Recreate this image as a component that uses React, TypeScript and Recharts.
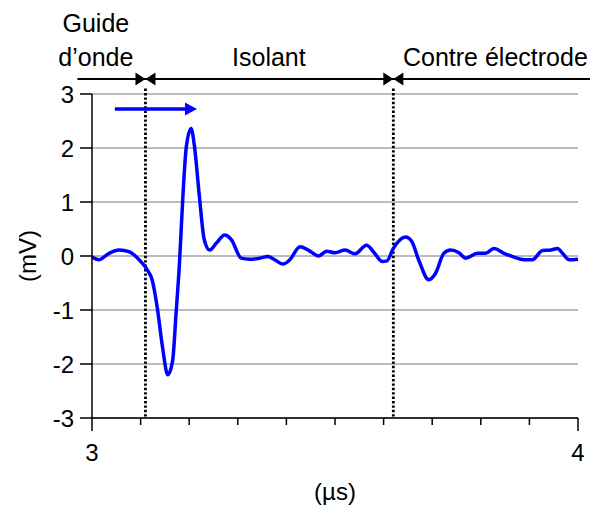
import {
  CartesianGrid,
  Line,
  LineChart,
  ReferenceDot,
  ReferenceLine,
  XAxis,
  YAxis,
} from "recharts";

// time (µs) and signal (mV)
const TIME_US = [
  3.0, 3.014, 3.035, 3.056, 3.076, 3.097, 3.114, 3.124, 3.134, 3.145, 3.156,
  3.166, 3.173, 3.18, 3.187, 3.194, 3.204, 3.211, 3.221, 3.231, 3.242, 3.256,
  3.273, 3.287, 3.307, 3.324, 3.345, 3.362, 3.376, 3.393, 3.407, 3.428, 3.445,
  3.466, 3.483, 3.5, 3.521, 3.541, 3.565, 3.579, 3.597, 3.607, 3.62, 3.645,
  3.658, 3.672, 3.693, 3.707, 3.724, 3.738, 3.755, 3.769, 3.793, 3.81, 3.827,
  3.848, 3.868, 3.889, 3.906, 3.927, 3.944, 3.958, 3.968, 3.982, 4.0,
];
const SIGNAL_MV = [
  -0.02, -0.07, 0.05, 0.11, 0.08, -0.07, -0.26, -0.45, -0.94, -1.68, -2.2,
  -1.93, -1.06, -0.13, 1.1, 2.02, 2.36, 2.02, 1.1, 0.3, 0.11, 0.24,
  0.39, 0.3, -0.04, -0.06, -0.04, -0.01, -0.07, -0.15, -0.07, 0.17, 0.11,
  0.0, 0.09, 0.06, 0.11, 0.04, 0.2, 0.08, -0.1, -0.09, 0.14, 0.35,
  0.27, -0.07, -0.44, -0.32, 0.05, 0.11, 0.06, -0.04, 0.05, 0.05, 0.14,
  0.05, -0.02, -0.07, -0.07, 0.1, 0.11, 0.14, 0.05, -0.07, -0.06,
];

const X_TICKS = [3, 3.1, 3.2, 3.3, 3.4, 3.5, 3.6, 3.7, 3.8, 3.9, 4];
const Y_TICKS = [-3, -2, -1, 0, 1, 2, 3];

// interfaces between the layers (µs)
const BOUNDARIES_US = [3.11, 3.62];
const REGION_NAMES = [["Guide", "d\u2019onde"], ["Isolant"], ["Contre électrode"]];
const REGION_X_US = [3.008, 3.364, 3.83];

// propagation arrow (µs)
const ARROW_FROM_US = 3.047;
const ARROW_TO_US = 3.216;

const data = TIME_US.map((t, i) => ({ t, mv: SIGNAL_MV[i] }));

const FONT = "'Liberation Sans', Arial, Helvetica, sans-serif";
const BLUE = "#0000ff";

// y levels (in mV units) for the annotations above the plot
const BANNER_MV = 3.28;
const ARROW_MV = 2.72;
const LABEL_ROW1_MV = 4.15;
const LABEL_ROW2_MV = 3.52;

function XTick(props: any) {
  const { x, y, payload } = props;
  const v = payload.value as number;
  const major = Math.abs(v - Math.round(v)) < 1e-6;
  return (
    <g>
      <line x1={x} x2={x} y1={y} y2={y + (major ? 13 : 7)} stroke="#000" strokeWidth={1.5} />
      {major && (
        <text x={x} y={y + 43} textAnchor="middle" fontSize={24} fill="#000" fontFamily={FONT}>
          {Math.round(v)}
        </text>
      )}
    </g>
  );
}

function Bowtie(props: any) {
  const { cx, cy } = props;
  return (
    <path
      d={`M${cx - 10},${cy - 6.5}L${cx},${cy}L${cx - 10},${cy + 6.5}Z M${cx + 10},${cy - 6.5}L${cx},${cy}L${cx + 10},${cy + 6.5}Z`}
      fill="#000"
    />
  );
}

function Arrow(props: any) {
  const { x1, y1, x2 } = props;
  return (
    <g>
      <line x1={x1} x2={x2 - 10} y1={y1} y2={y1} stroke={BLUE} strokeWidth={3.5} />
      <path d={`M${x2 - 12},${y1 - 6.5}L${x2},${y1}L${x2 - 12},${y1 + 6.5}Z`} fill={BLUE} />
    </g>
  );
}

function regionLabel(text: string) {
  return (props: any) => (
    <text x={props.cx} y={props.cy} textAnchor="middle" fontSize={25} fill="#000" fontFamily={FONT}>
      {text}
    </text>
  );
}

export default function App() {
  return (
    <div style={{ position: "absolute", left: 0, top: 0, background: "#fff", fontFamily: FONT }}>
      <LineChart
        width={590}
        height={509}
        data={data}
        margin={{ top: 94, right: 12, bottom: 0, left: 0 }}
      >
        <CartesianGrid vertical={false} stroke="#a6a6a6" strokeWidth={1.5} />
        <XAxis
          dataKey="t"
          type="number"
          domain={[3, 4]}
          ticks={X_TICKS}
          interval={0}
          height={91}
          tickSize={0}
          tickMargin={0}
          tickLine={false}
          axisLine={{ stroke: "#000", strokeWidth: 1.5 }}
          tick={<XTick />}
          label={{
            content: (p: any) => (
              <text
                x={p.viewBox.x + p.viewBox.width / 2}
                y={p.viewBox.y + 82}
                textAnchor="middle"
                fontSize={24}
                fill="#000"
                fontFamily={FONT}
              >
                (µs)
              </text>
            ),
          }}
        />
        <YAxis
          type="number"
          domain={[-3, 3]}
          ticks={Y_TICKS}
          interval={0}
          width={92}
          tickSize={12}
          tickMargin={6}
          tick={{ fill: "#000", fontSize: 24, fontFamily: FONT }}
          tickLine={{ stroke: "#000", strokeWidth: 1.5 }}
          axisLine={{ stroke: "#000", strokeWidth: 1.5 }}
          label={{
            content: (p: any) => {
              const cx = p.viewBox.x + 36;
              const cy = p.viewBox.y + p.viewBox.height / 2;
              return (
                <text
                  x={cx}
                  y={cy}
                  transform={`rotate(-90 ${cx} ${cy})`}
                  textAnchor="middle"
                  fontSize={24}
                  fill="#000"
                  fontFamily={FONT}
                >
                  (mV)
                </text>
              );
            },
          }}
        />

        {BOUNDARIES_US.map((b) => (
          <ReferenceLine
            key={`b${b}`}
            segment={[
              { x: b, y: 3.1 },
              { x: b, y: -3 },
            ]}
            stroke="#000"
            strokeWidth={2.8}
            strokeDasharray="2.4 2"
            ifOverflow="visible"
          />
        ))}
        <ReferenceLine
          segment={[
            { x: 2.97, y: BANNER_MV },
            { x: 4.03, y: BANNER_MV },
          ]}
          stroke="#000"
          strokeWidth={2}
          ifOverflow="visible"
        />
        {BOUNDARIES_US.map((b) => (
          <ReferenceDot key={`d${b}`} x={b} y={BANNER_MV} ifOverflow="visible" shape={<Bowtie />} />
        ))}
        {REGION_NAMES.map((lines, i) =>
          lines.map((txt, j) => (
            <ReferenceDot
              key={`l${i}${j}`}
              x={REGION_X_US[i]}
              y={lines.length === 2 && j === 0 ? LABEL_ROW1_MV : LABEL_ROW2_MV}
              ifOverflow="visible"
              shape={regionLabel(txt)}
            />
          ))
        )}
        <ReferenceLine
          segment={[
            { x: ARROW_FROM_US, y: ARROW_MV },
            { x: ARROW_TO_US, y: ARROW_MV },
          ]}
          ifOverflow="visible"
          shape={<Arrow />}
        />

        <Line
          type="monotone"
          dataKey="mv"
          stroke={BLUE}
          strokeWidth={3.5}
          dot={false}
          activeDot={false}
          isAnimationActive={false}
        />
      </LineChart>
    </div>
  );
}
